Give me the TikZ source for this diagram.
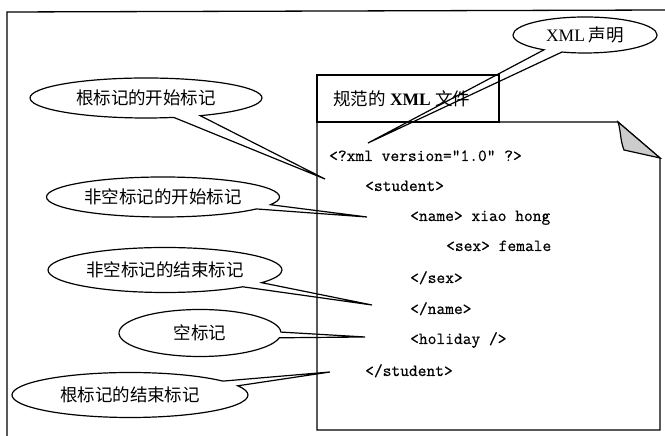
\documentclass[tikz,border=0pt]{standalone}
\usepackage{fontspec}
\setmainfont{Liberation Serif}
\newfontfamily\cjk{Noto Sans CJK SC}
\newfontfamily\codefont[FakeBold=0.6]{Latin Modern Mono}
\usetikzlibrary{shapes.callouts}
\tikzset{
  bubble/.style={ellipse callout, draw, line width=1.2pt, inner sep=0pt,
    font=\cjk\fontsize{17.5}{20}\selectfont, callout pointer arc=14},
  codeline/.style={anchor=base west, inner sep=0pt,
    font=\codefont\fontsize{17}{20}\selectfont},
  frameline/.style={line width=1.3pt},
  boxline/.style={line width=1.2pt}
}
\begin{document}
\begin{tikzpicture}[x=1pt,y=1pt]
\useasboundingbox (0,0) rectangle (665,436);
% outer frame
\draw[frameline] (7,-2) -- (7,424) -- (667,426);
% title box
\draw[boxline] (317,314) rectangle (499,361);
\node[anchor=west, inner sep=0pt, font=\fontsize{17.5}{20}\selectfont] (title) at (333,337)
  {{\cjk 规范的} \textbf{XML} {\cjk 文件}};
% document with folded corner
\draw[boxline] (618,314) -- (317,314) -- (317,6) -- (660,6) -- (660,278) -- cycle;
\filldraw[boxline, fill=gray!40] (618,314) .. controls (621,305) and (620,296) .. (624,286)
  -- (660,278) -- cycle;
% code
\node[codeline] (l1) at (329,275) {<?xml version="1.0" ?>};
\node[codeline] (l2) at (365,245) {<student>};
\node[codeline] (l3) at (410,215) {<name> xiao hong};
\node[codeline] (l4) at (446,185) {<sex> female};
\node[codeline] (l5) at (410,153) {</sex>};
\node[codeline] (l6) at (410,122) {</name>};
\node[codeline] (l7) at (410,92) {<holiday />};
\node[codeline] (l8) at (365,60) {</student>};
% pointer tips
\coordinate (t1) at (368,293);
\coordinate (t2) at (325,257);
\coordinate (t3) at (367,219);
\coordinate (t4) at (372,131);
\coordinate (t5) at (365,99);
\coordinate (t6) at (330,64);
% callouts
\node[bubble, minimum width=144, minimum height=36, callout absolute pointer={(t1)}, callout pointer arc=16]
  (c1) at (585,401) {{\rmfamily XML} 声明\hspace{10pt}};
\node[bubble, minimum width=232, minimum height=40, callout absolute pointer={(t2)}]
  (c2) at (146,338) {根标记的开始标记\hspace{20pt}};
\node[bubble, minimum width=233, minimum height=40, callout absolute pointer={(t3)}]
  (c3) at (163,239) {非空标记的开始标记};
\node[bubble, minimum width=234, minimum height=45, callout absolute pointer={(t4)}]
  (c4) at (165,166) {非空标记的结束标记};
\node[bubble, minimum width=162, minimum height=47, callout absolute pointer={(t5)}]
  (c5) at (200,103) {空标记\hspace{14pt}};
\node[bubble, minimum width=236, minimum height=45, callout absolute pointer={(t6)}]
  (c6) at (130,41) {根标记的结束标记\hspace{18pt}};
\end{tikzpicture}
\end{document}
